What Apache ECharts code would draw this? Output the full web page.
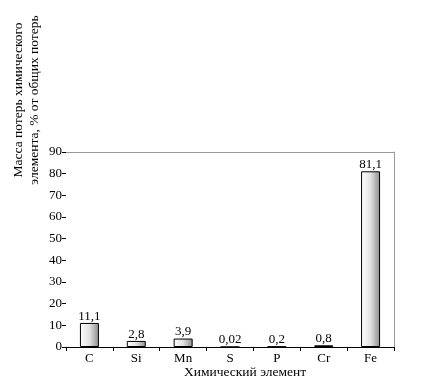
<!DOCTYPE html>
<html><head><meta charset="utf-8">
<script src="https://cdn.jsdelivr.net/npm/echarts@6/dist/echarts.min.js"></script>
<style>html,body{margin:0;padding:0;background:#fff}#c{width:432px;height:388px}</style>
</head><body><div id="c"></div>
<script>
const categories = ['C', 'Si', 'Mn', 'S', 'P', 'Cr', 'Fe'];
const values = [11.1, 2.8, 3.9, 0.02, 0.2, 0.8, 81.1];
const valueLabels = ['11,1', '2,8', '3,9', '0,02', '0,2', '0,8', '81,1'];
const yTitle1 = 'Масса потерь химического';
const yTitle2 = 'элемента, % от общих потерь';
const xTitle = 'Химический элемент';

const font = '"Liberation Serif", "Times New Roman", serif';
const chart = echarts.init(document.getElementById('c'), null, {renderer: 'canvas'});
chart.setOption({
  animation: false,
  backgroundColor: '#fff',
  grid: {left: 66, right: 38, top: 152, bottom: 41, containLabel: false},
  xAxis: [{
    type: 'category', data: categories,
    axisLine: {lineStyle: {color: '#000', width: 1}},
    axisTick: {show: true, length: 4, inside: false, lineStyle: {color: '#000'}},
    axisLabel: {color: '#000', fontFamily: font, fontSize: 13, margin: 5},
    splitLine: {show: false}
  }, {
    type: 'category', data: categories, position: 'top',
    axisLine: {show: true, onZero: false, lineStyle: {color: '#999'}},
    axisTick: {show: false}, axisLabel: {show: false}
  }],
  yAxis: [{
    type: 'value', min: 0, max: 90, interval: 10,
    axisLine: {show: false},
    axisTick: {show: true, length: 4, lineStyle: {color: '#000'}},
    axisLabel: {color: '#000', fontFamily: font, fontSize: 13, margin: 4},
    splitLine: {show: false}
  }, {
    type: 'value', min: 0, max: 90, interval: 10, position: 'right',
    axisLine: {show: true, onZero: false, lineStyle: {color: '#999'}},
    axisTick: {show: false}, axisLabel: {show: false}, splitLine: {show: false}
  }],
  series: [{
    type: 'bar',
    data: values,
    barWidth: 19,
    itemStyle: {
      color: new echarts.graphic.LinearGradient(0, 0, 1, 0, [
        {offset: 0, color: '#ffffff'},
        {offset: 0.5, color: '#e2e2e2'},
        {offset: 1, color: '#8c8c8c'}
      ]),
      borderColor: '#000', borderWidth: 1
    },
    label: {
      show: true, position: 'top', distance: 0,
      color: '#000', fontFamily: font, fontSize: 13,
      formatter: p => valueLabels[p.dataIndex]
    }
  }],
  graphic: [
    {type: 'text', x: 18, y: 100, rotation: Math.PI / 2,
     style: {text: yTitle1, font: '13.5px ' + font, fill: '#000', align: 'center', verticalAlign: 'middle'}},
    {type: 'text', x: 34, y: 100, rotation: Math.PI / 2,
     style: {text: yTitle2, font: '13.5px ' + font, fill: '#000', align: 'center', verticalAlign: 'middle'}},
    {type: 'text', x: 245, y: 372,
     style: {text: xTitle, font: '13.5px ' + font, fill: '#000', align: 'center', verticalAlign: 'middle'}}
  ]
});
</script></body></html>
